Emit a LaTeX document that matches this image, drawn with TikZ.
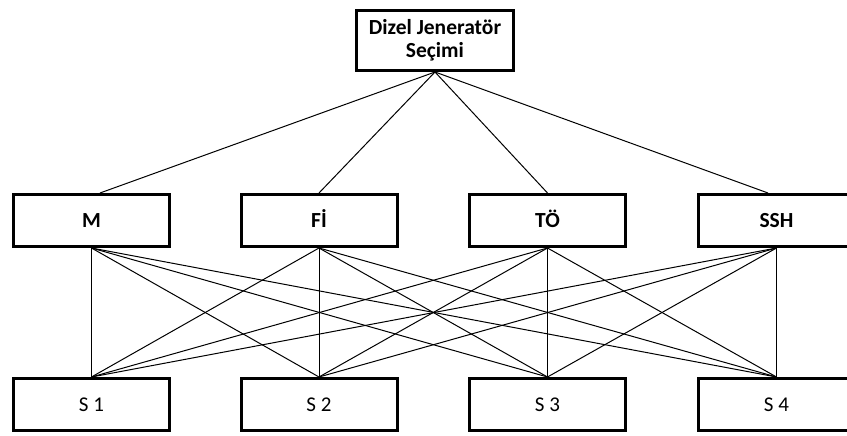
\documentclass[tikz,border=0pt]{standalone}
\usepackage{fontspec}
\setmainfont{Carlito}
\begin{document}
\begin{tikzpicture}[x=1pt,y=-1pt,
  box/.style={draw,line width=3pt,rectangle,minimum width=156pt,minimum height=52pt,inner sep=0pt,fill=white},
  goalbox/.style={box,font=\fontsize{21.5}{23}\selectfont\bfseries,align=center},
  crit/.style={box,font=\fontsize{21.5}{23}\selectfont\bfseries,text height=13.8pt,text depth=0pt},
  alt/.style={box,font=\fontsize{21}{23}\selectfont,text height=13.3pt,text depth=0pt},
  link/.style={line width=1pt}]
\useasboundingbox (0,0) rectangle (847,436);
\clip (0,0) rectangle (847,436);

% goal
\node[goalbox,minimum width=157pt,minimum height=60pt] (goal) at (435,40.5) {Dizel Jeneratör\\Seçimi};

% criteria
\node[crit] (m)   at (91.5,220.5)  {M};
\node[crit] (fi)  at (319,220.5)   {Fİ};
\node[crit] (to)  at (547.5,220.5) {TÖ};
\node[crit] (ssh) at (776.5,220.5) {SSH};

% alternatives
\node[alt] (s1) at (91.5,404.5)  {S 1};
\node[alt] (s2) at (319,404.5)   {S 2};
\node[alt] (s3) at (547.5,404.5) {S 3};
\node[alt] (s4) at (776.5,404.5) {S 4};

% goal to criteria
\draw[link] (goal.south) -- ([xshift=8.5pt]m.north);
\draw[link] (goal.south) -- (fi.north);
\draw[link] (goal.south) -- (to.north);
\draw[link] (goal.south) -- ([xshift=-8.5pt]ssh.north);

% criteria to alternatives
\foreach \c in {m,fi,to,ssh}{
  \foreach \s in {s1,s2,s3,s4}{
    \draw[link] (\c.south) -- (\s.north);
  }
}
\end{tikzpicture}
\end{document}
